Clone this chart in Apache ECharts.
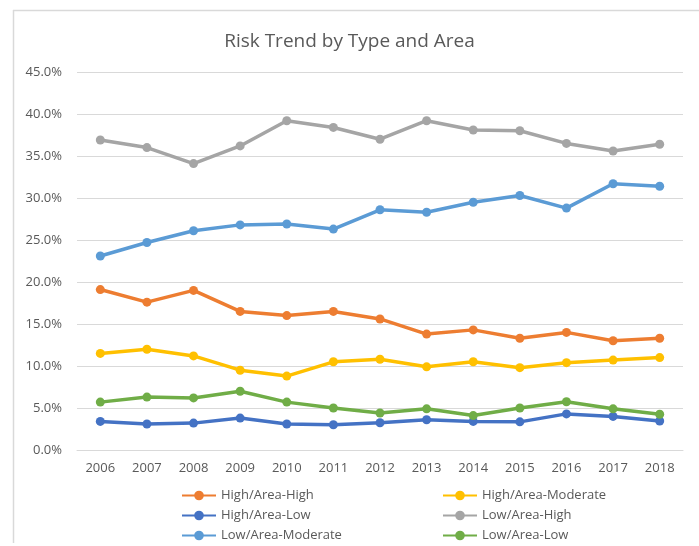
<!DOCTYPE html>
<html>
<head>
<meta charset="UTF-8">
<title>Risk Trend by Type and Area</title>
<script type="text/javascript" src="https://cdn.jsdelivr.net/npm/echarts@6/dist/echarts.min.js"></script>
<style>
  body{margin:0;background:#fff}
</style>
</head>
<body>
<div id="main" style="width:699px;height:546px"></div>
<script type="text/javascript">
// years on the x axis
var years = ['2006','2007','2008','2009','2010','2011','2012','2013','2014','2015','2016','2017','2018'];
// values in percent
var highAreaHigh     = [19.1, 17.6, 19.0, 16.5, 16.0, 16.5, 15.6, 13.8, 14.3, 13.3, 14.0, 13.0, 13.3];
var highAreaModerate = [11.5, 12.0, 11.2, 9.5, 8.8, 10.5, 10.8, 9.9, 10.5, 9.8, 10.4, 10.7, 11.0];
var highAreaLow      = [3.4, 3.1, 3.2, 3.8, 3.1, 3.0, 3.25, 3.6, 3.4, 3.35, 4.3, 4.0, 3.45];
var lowAreaHigh      = [36.9, 36.0, 34.1, 36.2, 39.2, 38.4, 37.0, 39.2, 38.1, 38.0, 36.5, 35.6, 36.4];
var lowAreaModerate  = [23.1, 24.7, 26.1, 26.8, 26.9, 26.3, 28.6, 28.3, 29.5, 30.3, 28.8, 31.7, 31.4];
var lowAreaLow       = [5.7, 6.3, 6.2, 7.0, 5.7, 5.0, 4.4, 4.9, 4.1, 5.0, 5.75, 4.9, 4.25];

var textColor = '#595959';
var font = '"Open Sans", sans-serif';

function line(name, color, data) {
  return {
    name: name,
    type: 'line',
    data: data,
    symbol: 'circle',
    symbolSize: 9,
    color: color,
    lineStyle: { width: 3.5, color: color },
    itemStyle: { color: color },
    animation: false
  };
}

var myEcharts = echarts.init(document.getElementById('main'));
var option = {
  backgroundColor: '#fff',
  textStyle: { fontFamily: font },
  title: {
    text: 'Risk Trend by Type and Area',
    left: 'center',
    top: 27,
    textStyle: { color: textColor, fontSize: 19, fontWeight: 'normal', fontFamily: font }
  },
  graphic: [
    { type: 'line', shape: { x1: 13, y1: 10.5, x2: 699, y2: 10.5 }, style: { stroke: '#d9d9d9', lineWidth: 1.5 } },
    { type: 'line', shape: { x1: 13.5, y1: 10, x2: 13.5, y2: 543 }, style: { stroke: '#d9d9d9', lineWidth: 1.5 } }
  ],
  legend: [
    {
      orient: 'vertical', left: 181, top: 489, padding: 0,
      itemWidth: 34, itemHeight: 12, itemGap: 7,
      textStyle: { color: textColor, fontSize: 13, fontFamily: font },
      data: ['High/Area-High', 'High/Area-Low', 'Low/Area-Moderate']
    },
    {
      orient: 'vertical', left: 442, top: 489, padding: 0,
      itemWidth: 34, itemHeight: 12, itemGap: 7,
      textStyle: { color: textColor, fontSize: 13, fontFamily: font },
      data: ['High/Area-Moderate', 'Low/Area-High', 'Low/Area-Low']
    }
  ],
  grid: { left: 77, right: 16, top: 72, bottom: 96, containLabel: false },
  xAxis: {
    type: 'category',
    data: years,
    boundaryGap: true,
    axisLine: { lineStyle: { color: '#d9d9d9' } },
    axisTick: { show: false },
    axisLabel: { color: textColor, fontSize: 13, margin: 12, fontFamily: font }
  },
  yAxis: {
    type: 'value',
    min: 0,
    max: 45,
    interval: 5,
    axisLine: { show: false },
    axisTick: { show: false },
    splitLine: { lineStyle: { color: '#d9d9d9', width: 1 } },
    axisLabel: {
      color: textColor, fontSize: 13, margin: 15, fontFamily: font,
      formatter: function (v) { return v.toFixed(1) + '%'; }
    }
  },
  series: [
    line('High/Area-High', '#ED7D31', highAreaHigh),
    line('High/Area-Moderate', '#FFC000', highAreaModerate),
    line('High/Area-Low', '#4472C4', highAreaLow),
    line('Low/Area-High', '#A5A5A5', lowAreaHigh),
    line('Low/Area-Moderate', '#5B9BD5', lowAreaModerate),
    line('Low/Area-Low', '#70AD47', lowAreaLow)
  ]
};
myEcharts.setOption(option);
</script>
</body>
</html>
